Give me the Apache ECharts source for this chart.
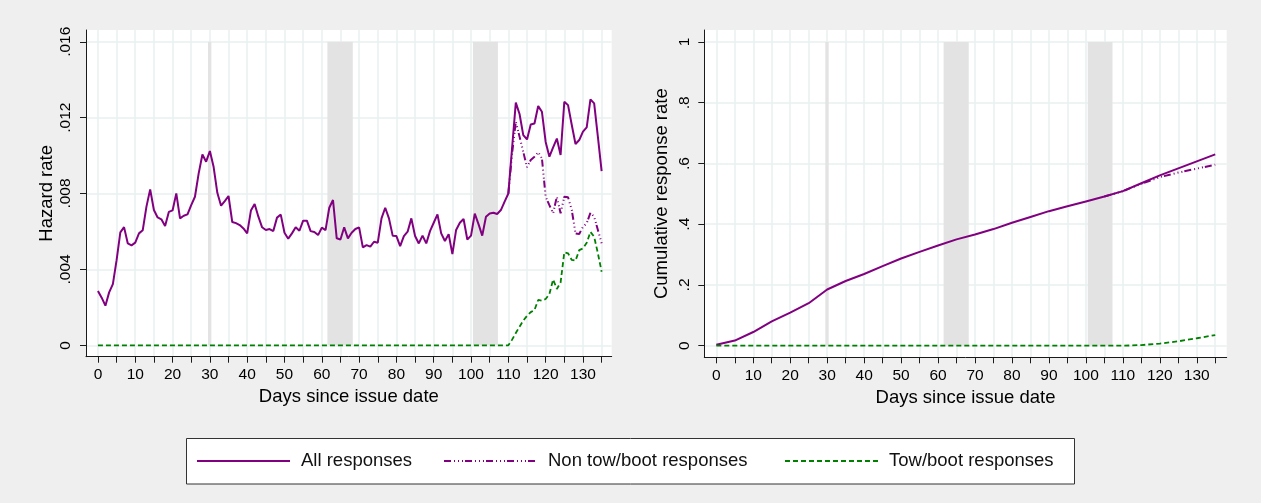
<!DOCTYPE html>
<html>
<head>
<meta charset="utf-8">
<script src="https://cdn.jsdelivr.net/npm/echarts@6/dist/echarts.min.js"></script>
<style>
html,body{margin:0;padding:0;background:#efefef;}
#c{width:1261px;height:503px;}
</style>
</head>
<body>
<div id="c"></div>
<script>
// ---- data ----
const seriesNames = ['All responses', 'Non tow/boot responses', 'Tow/boot responses'];

// daily hazard rate, all responses, days 0..135
const hazardAll = [
  0.00286,0.00251,0.00209,0.00279,0.00323,0.00449,0.00595,0.00623,0.00537,0.00527,
  0.00541,0.00590,0.00606,0.00731,0.00822,0.00713,0.00674,0.00664,0.00629,0.00703,
  0.00711,0.00801,0.00669,0.00683,0.00690,0.00739,0.00783,0.00906,0.01006,0.00968,
  0.01024,0.00941,0.00804,0.00736,0.00760,0.00787,0.00650,0.00644,0.00634,0.00616,
  0.00590,0.00710,0.00745,0.00678,0.00622,0.00608,0.00613,0.00602,0.00673,0.00689,
  0.00593,0.00562,0.00590,0.00622,0.00604,0.00657,0.00657,0.00602,0.00597,0.00581,
  0.00620,0.00607,0.00725,0.00766,0.00564,0.00558,0.00622,0.00564,0.00593,0.00613,
  0.00622,0.00516,0.00528,0.00520,0.00546,0.00541,0.00669,0.00725,0.00669,0.00578,
  0.00576,0.00523,0.00576,0.00599,0.00669,0.00576,0.00537,0.00578,0.00537,0.00602,
  0.00646,0.00690,0.00590,0.00550,0.00586,0.00481,0.00608,0.00646,0.00666,0.00558,
  0.00578,0.00694,0.00639,0.00578,0.00678,0.00695,0.00699,0.00692,0.00713,0.00757,
  0.00800,0.01040,0.01279,0.01219,0.01108,0.01085,0.01164,0.01169,0.01261,0.01231,
  0.01072,0.00994,0.01043,0.01090,0.01003,0.01284,0.01266,0.01161,0.01061,0.01082,
  0.01126,0.01149,0.01296,0.01275,0.01099,0.00918
];

// non tow/boot hazard (coincides with all responses before day 110)
const hazardNonTowDays = [110,111,112,113,114,115,116,117,118,119,120,121,122,123,124,125,126,127,128,129,130,131,132,133,134,135];
const hazardNonTow = [
  0.00800,0.01010,0.01179,0.01100,0.01020,0.00938,0.00977,0.00994,0.01018,0.00985,
  0.00783,0.00739,0.00696,0.00783,0.00696,0.00783,0.00780,0.00713,0.00590,0.00587,
  0.00625,0.00643,0.00699,0.00678,0.00608,0.00538
];

// tow/boot hazard (zero until day 110)
const hazardTowDays = [0,110,111,112,113,114,115,116,117,118,119,120,121,122,123,124,125,126,127,128,129,130,131,132,133,134,135];
const hazardTow = [
  0,0,0.00030,0.00065,0.00098,0.00130,0.00155,0.00175,0.00186,0.00239,0.00235,
  0.00244,0.00270,0.00347,0.00297,0.00331,0.00490,0.00485,0.00450,0.00446,0.00502,
  0.00511,0.00540,0.00598,0.00572,0.00485,0.00388
];

// cumulative response rate
const cumDays = [0,5,10,15,20,25,30,35,40,45,50,55,60,65,70,75,80,85,90,95,100,105,110,115,120,125,130,135];
const cumAll = [0.003,0.017,0.045,0.080,0.109,0.140,0.185,0.213,0.236,0.262,0.287,0.309,0.330,0.350,0.366,0.384,0.405,0.424,0.443,0.459,0.475,0.491,0.509,0.535,0.561,0.584,0.607,0.630];
const cumNonTowDays = [105,110,115,120,125,130,135];
const cumNonTow = [0.491,0.509,0.533,0.555,0.570,0.583,0.596];
const cumTowDays = [0,110,115,120,125,130,135];
const cumTow = [0,0,0.002,0.007,0.0145,0.0245,0.035];

// shaded periods (days)
const shadedPeriods = [[29.5,30.4],[61.5,68.3],[100.5,107.2]];

// axis ticks and tick labels
const xTickValues = [0,5,10,15,20,25,30,35,40,45,50,55,60,65,70,75,80,85,90,95,100,105,110,115,120,125,130,135];
const xLabelValues = [0,10,20,30,40,50,60,70,80,90,100,110,120,130];
const hazardTicks = [0,0.004,0.008,0.012,0.016];
const hazardTickLabels = ['0','.004','.008','.012','.016'];
const cumTicks = [0,0.2,0.4,0.6,0.8,1];
const cumTickLabels = ['0','.2','.4','.6','.8','1'];

// ---- chart ----
const FONT = '"Liberation Sans", Arial, Helvetica, sans-serif';
const PURPLE = '#800080';
const GREEN = '#008000';
const GRIDC = '#e8f0f1';
const AXC = '#1a1a1a';

const pairs = (xs, ys) => xs.map((x, i) => [x, ys[i]]);
const labelFor = (ticks, labels) => v => {
  let best = 0;
  ticks.forEach((t, i) => { if (Math.abs(t - v) < Math.abs(ticks[best] - v)) best = i; });
  return labels[best];
};

function xAxisCfg(gi, min, max) {
  return {
    type: 'value', gridIndex: gi, min: min, max: max,
    axisLine: { show: true, onZero: false, lineStyle: { color: AXC, width: 1 } },
    axisTick: { show: true, length: 6, customValues: xTickValues, lineStyle: { color: AXC } },
    axisLabel: { customValues: xLabelValues, fontSize: 15.5, margin: 10, color: '#000', fontFamily: FONT },
    splitLine: { show: true, lineStyle: { color: GRIDC, width: 1.5 } },
    name: 'Days since issue date', nameLocation: 'middle', nameGap: 27,
    nameTextStyle: { fontSize: 18.5, color: '#000', fontFamily: FONT }
  };
}
function yAxisCfg(gi, min, max, ticks, labels, title, gap) {
  return {
    type: 'value', gridIndex: gi, min: min, max: max,
    axisLine: { show: true, onZero: false, lineStyle: { color: AXC, width: 1 } },
    axisTick: { show: true, length: 6, customValues: ticks, lineStyle: { color: AXC } },
    axisLabel: { customValues: ticks, rotate: 90, fontSize: 15.5, margin: 12, color: '#000', fontFamily: FONT, formatter: labelFor(ticks, labels) },
    splitLine: { show: true, lineStyle: { color: GRIDC, width: 1.5 } },
    name: title, nameLocation: 'middle', nameGap: gap, nameRotate: 90,
    nameTextStyle: { fontSize: 18.5, color: '#000', fontFamily: FONT }
  };
}
function bands(top) {
  return {
    silent: true,
    itemStyle: { color: '#e3e3e3' },
    data: shadedPeriods.map(p => [{ xAxis: p[0], yAxis: 0 }, { xAxis: p[1], yAxis: top }])
  };
}
const DASH_NON = [7, 3, 1, 3, 1, 3, 1, 2];
const DASH_TOW = [5, 3];
const styleAll = { color: PURPLE, width: 2 };
const styleNon = { color: PURPLE, width: 2, type: DASH_NON };
const styleTow = { color: GREEN, width: 1.8, type: DASH_TOW };

function line(name, gi, data, ls, extra) {
  return Object.assign({
    name: name, type: 'line', xAxisIndex: gi, yAxisIndex: gi, data: data,
    symbol: 'none', showSymbol: false, lineStyle: ls, itemStyle: { color: ls.color },
    emphasis: { disabled: true }, silent: true
  }, extra || {});
}

// legend drawn as graphic elements (Stata-style box)
const LEG_Y = 461;
const legendItems = [
  { name: seriesNames[0], x: 197, ls: styleAll, dash: null },
  { name: seriesNames[1], x: 444, ls: styleNon, dash: DASH_NON },
  { name: seriesNames[2], x: 785, ls: styleTow, dash: DASH_TOW }
];
const legendGraphic = [{
  type: 'rect', z: 1,
  shape: { x: 186.5, y: 438.5, width: 888, height: 45.5 },
  style: { fill: '#fff', stroke: '#333', lineWidth: 1 }
}];
legendItems.forEach(it => {
  legendGraphic.push({
    type: 'line', z: 2,
    shape: { x1: it.x, y1: LEG_Y, x2: it.x + 93, y2: LEG_Y },
    style: { stroke: it.ls.color, lineWidth: it.ls.width, lineDash: it.dash }
  });
  legendGraphic.push({
    type: 'text', z: 2, x: it.x + 104, y: LEG_Y,
    style: { text: it.name, fill: '#111', font: '18.5px ' + FONT, verticalAlign: 'middle', align: 'left' }
  });
});

const chart = echarts.init(document.getElementById('c'), null, { renderer: 'canvas' });
chart.setOption({
  animation: false,
  backgroundColor: '#efefef',
  textStyle: { fontFamily: FONT },
  grid: [
    { left: 86, top: 30, width: 525.7, height: 326.7, show: true, backgroundColor: '#fff', borderWidth: 0 },
    { left: 704.3, top: 30, width: 522.4, height: 327.3, show: true, backgroundColor: '#fff', borderWidth: 0 }
  ],
  xAxis: [xAxisCfg(0, -3.2, 137.7), xAxisCfg(1, -3.25, 138.1)],
  yAxis: [
    yAxisCfg(0, -0.0006, 0.01662, hazardTicks, hazardTickLabels, 'Hazard rate', 30),
    yAxisCfg(1, -0.0382, 1.0395, cumTicks, cumTickLabels, 'Cumulative response rate', 33)
  ],
  graphic: legendGraphic,
  series: [
    line(seriesNames[0], 0, hazardAll.map((v, i) => [i, v]), styleAll, { markArea: bands(0.016) }),
    line(seriesNames[1], 0, pairs(hazardNonTowDays, hazardNonTow), styleNon),
    line(seriesNames[2], 0, pairs(hazardTowDays, hazardTow), styleTow),
    line(seriesNames[0], 1, pairs(cumDays, cumAll), styleAll, { markArea: bands(1) }),
    line(seriesNames[1], 1, pairs(cumNonTowDays, cumNonTow), styleNon),
    line(seriesNames[2], 1, pairs(cumTowDays, cumTow), styleTow)
  ]
});
</script>
</body>
</html>
